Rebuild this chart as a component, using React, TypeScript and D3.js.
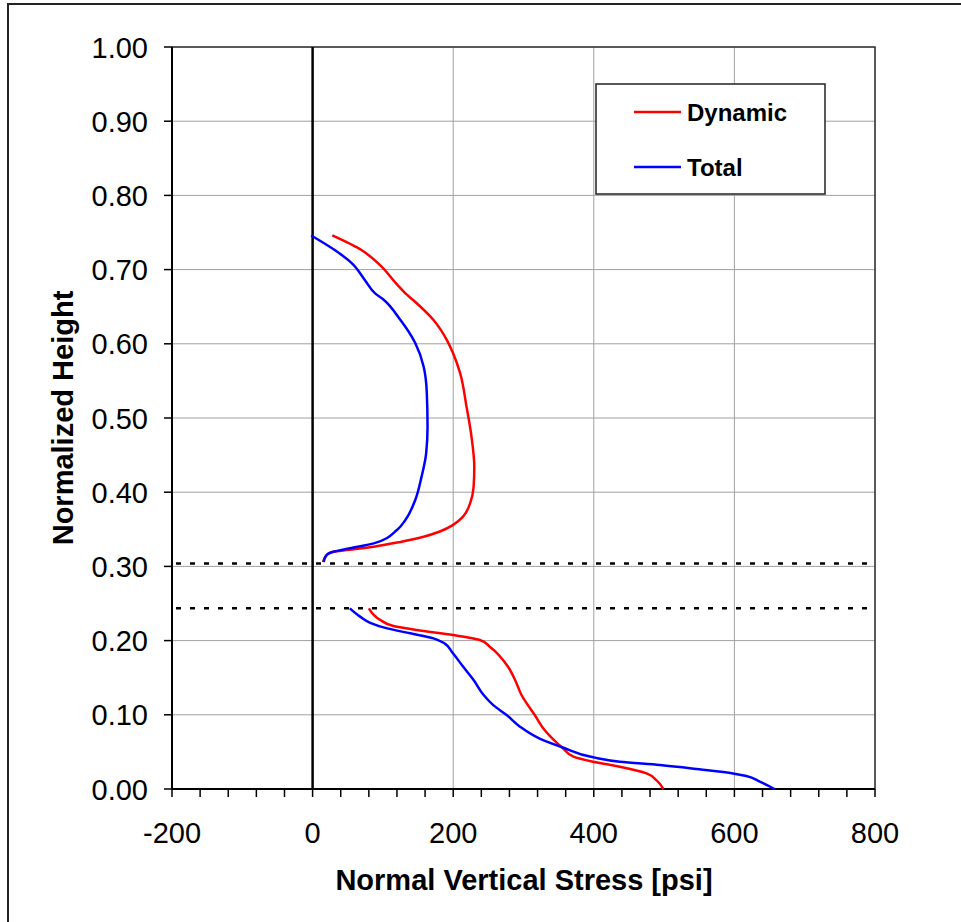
import React from "react";
import * as d3 from "d3";

const xTicks = [-200, 0, 200, 400, 600, 800];
const yTicks = [0, 0.1, 0.2, 0.3, 0.4, 0.5, 0.6, 0.7, 0.8, 0.9, 1.0];
const dottedLevels = [0.304, 0.2435];
const seriesNames = ["Dynamic", "Total"];
const seriesColors = ["#ff0000", "#0000ff"];

const dynamicUpper: [number, number][] = [
  [28, 0.746], [70, 0.726], [96, 0.706], [120, 0.68], [132, 0.668], [143, 0.659],
  [172, 0.632], [191, 0.605], [200, 0.587], [210, 0.56], [219, 0.515], [226, 0.475],
  [230, 0.434], [229, 0.407], [224, 0.385], [214, 0.367], [200, 0.356], [181, 0.347],
  [158, 0.34], [125, 0.333], [87, 0.3266], [49, 0.322], [25, 0.3185], [18, 0.313], [15, 0.306],
];
const dynamicLower: [number, number][] = [
  [80, 0.2435], [96, 0.228], [115, 0.2197], [148, 0.2143], [200, 0.2075], [238, 0.2008],
  [252, 0.1918], [278, 0.1648], [288, 0.147], [297, 0.127], [316, 0.0997], [330, 0.0795],
  [356, 0.055], [371, 0.0436], [399, 0.0368], [437, 0.03], [475, 0.021], [489, 0.012], [499, 0.0],
];
const totalUpper: [number, number][] = [
  [-2, 0.746], [32, 0.726], [56, 0.7085], [75, 0.685], [89, 0.668], [99, 0.661],
  [125, 0.632], [146, 0.601], [158, 0.569], [162.5, 0.533], [163.5, 0.488], [161.5, 0.452],
  [155, 0.421], [146, 0.3895], [132, 0.3625], [120, 0.349], [87, 0.331], [53, 0.3244],
  [27, 0.319], [20, 0.3154], [15.6, 0.306],
];
const totalLower: [number, number][] = [
  [53, 0.2435], [68, 0.232], [82, 0.224], [106, 0.2165], [139, 0.2098], [172, 0.203],
  [188, 0.196], [198, 0.185], [214, 0.165], [229, 0.147], [243, 0.127], [257, 0.113],
  [276, 0.0997], [295, 0.084], [323, 0.068], [356, 0.056], [399, 0.0427], [437, 0.0368],
  [494, 0.0323], [550, 0.0265], [598, 0.021], [617, 0.0175], [636, 0.01], [657, 0.0],
];

const W = 961;
const H = 922;
const left = 172;
const right = 875;
const top = 47;
const bottom = 789;
const FONT = "'Liberation Sans', Arial, sans-serif";

export default function App() {
  const x = d3.scaleLinear().domain([-200, 800]).range([left, right]);
  const y = d3.scaleLinear().domain([0, 1]).range([bottom, top]);
  const line = d3
    .line<[number, number]>()
    .x((d) => x(d[0]))
    .y((d) => y(d[1]))
    .curve(d3.curveMonotoneY);

  const minorX = d3.range(-200, 801, 40);
  const segs = [
    { data: dynamicUpper, color: seriesColors[0] },
    { data: dynamicLower, color: seriesColors[0] },
    { data: totalUpper, color: seriesColors[1] },
    { data: totalLower, color: seriesColors[1] },
  ];

  return (
    <div style={{ position: "absolute", left: 0, top: 0 }}>
      <svg width={W} height={H} style={{ display: "block", background: "#fff" }}>
        <rect x={8} y={4} width={1000} height={1000} fill="#fff" stroke="#222" strokeWidth={2} />
        {/* grid */}
        {yTicks.map((t) => (
          <line key={"gy" + t} x1={left} x2={right} y1={y(t)} y2={y(t)} stroke="#a0a0a0" strokeWidth={1} />
        ))}
        {xTicks.map((t) => (
          <line key={"gx" + t} x1={x(t)} x2={x(t)} y1={top} y2={bottom} stroke="#a0a0a0" strokeWidth={1} />
        ))}
        {/* plot border */}
        <rect x={left} y={top} width={right - left} height={bottom - top} fill="none" stroke="#333" strokeWidth={1.5} />
        {/* zero line */}
        <line x1={x(0)} x2={x(0)} y1={top} y2={bottom} stroke="#000" strokeWidth={2.5} />
        {/* dotted levels */}
        {dottedLevels.map((v) => (
          <line
            key={"d" + v}
            x1={x(-200)}
            x2={x(800)}
            y1={y(v)}
            y2={y(v)}
            stroke="#000"
            strokeWidth={2.5}
            strokeDasharray="5 9"
            strokeDashoffset={10}
          />
        ))}
        {/* axes */}
        <line x1={left} x2={left} y1={top} y2={bottom} stroke="#000" strokeWidth={2} />
        <line x1={left} x2={right} y1={bottom} y2={bottom} stroke="#000" strokeWidth={2} />
        {minorX.map((t) => (
          <line key={"tx" + t} x1={x(t)} x2={x(t)} y1={bottom} y2={bottom + 8} stroke="#000" strokeWidth={1.5} />
        ))}
        {yTicks.map((t) => (
          <line key={"ty" + t} x1={left - 8} x2={left} y1={y(t)} y2={y(t)} stroke="#000" strokeWidth={1.5} />
        ))}
        {/* series */}
        {segs.map((s, i) => (
          <path key={"s" + i} d={line(s.data) || ""} fill="none" stroke={s.color} strokeWidth={2.5} strokeLinejoin="round" />
        ))}
        {/* tick labels */}
        {xTicks.map((t) => (
          <text key={"lx" + t} x={x(t)} y={843} textAnchor="middle" fontFamily={FONT} fontSize={29} fill="#000">
            {t}
          </text>
        ))}
        {yTicks.map((t) => (
          <text key={"ly" + t} x={148} y={y(t) + 10.5} textAnchor="end" fontFamily={FONT} fontSize={29} fill="#000">
            {t.toFixed(2)}
          </text>
        ))}
        {/* axis titles */}
        <text x={(left + right) / 2 + 0.5} y={890} textAnchor="middle" fontFamily={FONT} fontSize={29} fontWeight="bold" fill="#000">
          Normal Vertical Stress [psi]
        </text>
        <text
          transform={`translate(73, 418) rotate(-90)`}
          textAnchor="middle"
          fontFamily={FONT}
          fontSize={29}
          fontWeight="bold"
          fill="#000"
        >
          Normalized Height
        </text>
        {/* legend */}
        <rect x={596} y={84} width={229} height={110} fill="#fff" stroke="#222" strokeWidth={1.5} />
        {seriesNames.map((n, i) => {
          const ly = i === 0 ? 112 : 167;
          return (
            <g key={"lg" + n}>
              <line x1={634} x2={681} y1={ly} y2={ly} stroke={seriesColors[i]} strokeWidth={2.5} />
              <text x={687} y={ly + 8.5} fontFamily={FONT} fontSize={24} fontWeight="bold" fill="#000">
                {n}
              </text>
            </g>
          );
        })}
      </svg>
    </div>
  );
}
